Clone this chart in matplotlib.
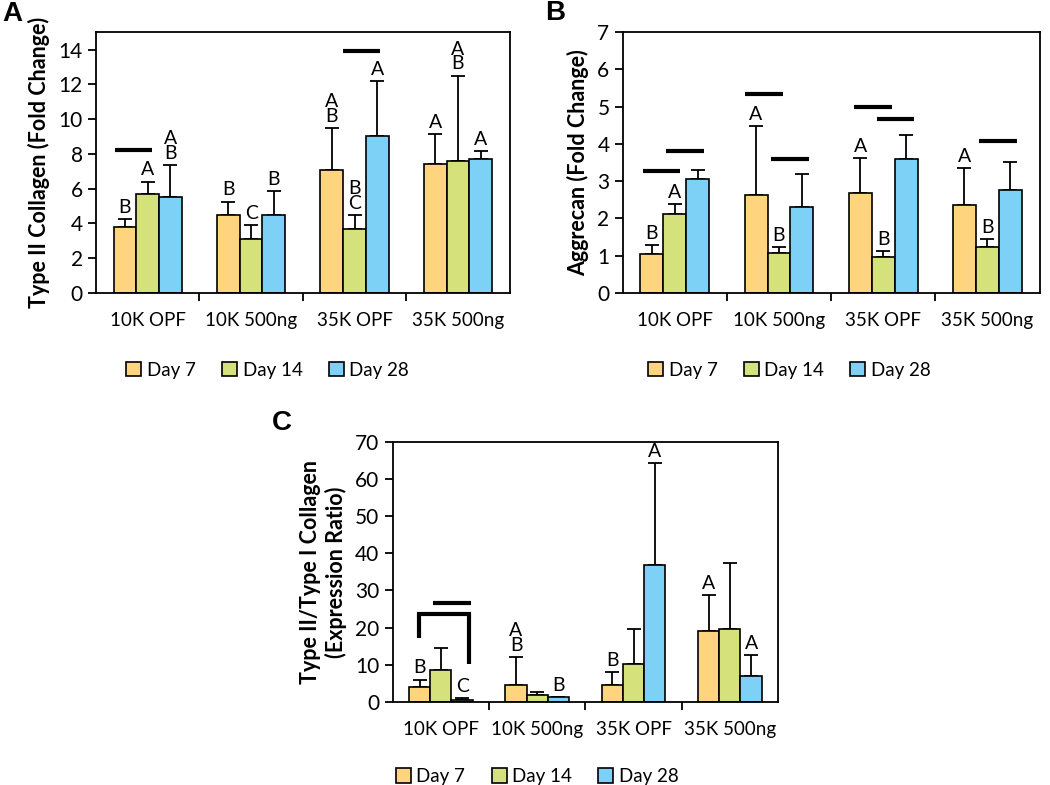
import numpy as np
import matplotlib
matplotlib.use("Agg")
import matplotlib.pyplot as plt

plt.rcParams['font.family'] = ['Lato', 'DejaVu Sans']

groups = ['10K OPF', '10K 500ng', '35K OPF', '35K 500ng']
days = ['Day 7', 'Day 14', 'Day 28']
colors = ['#FFD47E', '#D5E17A', '#7DD1F6']

# panel A - type II collagen
colA = [[3.8, 4.5, 7.05, 7.4],
        [5.7, 3.1, 3.7, 7.6],
        [5.5, 4.5, 9.0, 7.7]]
colA_top = [[4.25, 5.25, 9.5, 9.15],
            [6.4, 3.9, 4.45, 12.5],
            [7.35, 5.85, 12.2, 8.15]]
lettA = [['B', 'B', 'A\nB', 'A'],
         ['A', 'C', 'B\nC', 'A\nB'],
         ['A\nB', 'B', 'A', 'A']]
sigA = [(0, -0.32, 0.04, 8.2), (2, -0.11, 0.25, 13.9)]

# panel B - aggrecan
aggB = [[1.03, 2.64, 2.69, 2.35],
        [2.13, 1.07, 0.95, 1.24],
        [3.05, 2.30, 3.60, 2.76]]
aggB_top = [[1.28, 4.49, 3.61, 3.36],
            [2.38, 1.24, 1.12, 1.45],
            [3.31, 3.19, 4.23, 3.51]]
lettB = [['B', 'A', 'A', 'A'],
         ['A', 'B', 'B', 'B'],
         ['', '', '', '']]
sigB = [(0, -0.30, 0.05, 3.27), (0, -0.08, 0.285, 3.80),
        (1, -0.325, 0.04, 5.34), (1, -0.075, 0.285, 3.59),
        (2, -0.28, 0.08, 5.0), (2, -0.06, 0.30, 4.66),
        (3, -0.08, 0.28, 4.08)]

# panel C - type II / type I ratio
ratC = [[3.9, 4.4, 4.4, 19.2],
        [8.6, 1.8, 10.2, 19.6],
        [0.6, 1.35, 36.8, 6.9]]
ratC_top = [[6.0, 12.0, 8.1, 28.8],
            [14.6, 2.6, 19.5, 37.3],
            [0.9, 1.35, 64.2, 12.6]]
lettC = [['B', 'A\nB', 'B', 'A'],
         ['', '', '', ''],
         ['C', 'B', 'A', 'A']]
sigC = [(0, -0.08, 0.315, 26.7)]

fig = plt.figure(figsize=(10.5, 7.85), dpi=100)
W = 0.22
x = np.arange(len(groups))


def panel(rect, vals, tops, letters, sigs, ymax, ystep, ylabel, tag, tagpos, legpos):
    ax = fig.add_axes(rect)
    for i in range(3):
        xs = x + (i - 1) * W
        v = np.array(vals[i])
        t = np.array(tops[i])
        ax.bar(xs, v, W, color=colors[i], edgecolor='black', linewidth=1.2,
               label=days[i], zorder=2)
        ax.errorbar(xs, v, yerr=[np.zeros_like(v), t - v], fmt='none',
                    ecolor='black', elinewidth=1.3, capsize=5, capthick=1.3, zorder=1)
        for j in range(4):
            if letters[i][j]:
                ax.text(xs[j], t[j] + ymax * 0.012, letters[i][j], ha='center',
                        va='bottom', fontsize=14, linespacing=0.85)
    for g, a, b, y in sigs:
        ax.plot([g + a, g + b], [y, y], color='black', lw=3, solid_capstyle='butt')
    ax.set_xlim(-0.5, 3.5)
    ax.set_ylim(0, ymax)
    ax.set_yticks(np.arange(0, ymax + 0.01, ystep))
    ax.set_xticks([0.5, 1.5, 2.5])
    ax.set_xticklabels([])
    ax.set_xticks(x, minor=True)
    ax.set_xticklabels(groups, minor=True, fontsize=13.5)
    ax.tick_params(axis='x', which='minor', length=0, pad=14)
    ax.tick_params(axis='x', which='major', length=6, width=1.3, direction='out')
    ax.tick_params(axis='y', length=6, width=1.3, labelsize=15, direction='out')
    for s in ax.spines.values():
        s.set_linewidth(1.3)
    ax.set_ylabel(ylabel, fontsize=15.5, fontweight='bold', labelpad=6)
    fig.text(tagpos[0], tagpos[1], tag, fontsize=20, fontweight='bold',
             family=['Liberation Sans', 'DejaVu Sans'])
    ax.legend(loc='upper center', bbox_to_anchor=legpos, ncol=3, frameon=False,
              fontsize=13.5, handlelength=0.8, handleheight=0.8, handletextpad=0.3,
              columnspacing=1.4)
    return ax


axA = panel([0.0914, 0.627, 0.394, 0.332], colA, colA_top, lettA, sigA, 15, 2,
            'Type II Collagen (Fold Change)', 'A', (0.002, 0.973), (0.415, -0.2))
axA.set_ylim(0, 15)
axA.set_yticks(np.arange(0, 15, 2))

axB = panel([0.593, 0.627, 0.397, 0.332], aggB, aggB_top, lettB, sigB, 7, 1,
            'Aggrecan (Fold Change)', 'B', (0.519, 0.975), (0.40, -0.2))

axC = panel([0.374, 0.106, 0.367, 0.331], ratC, ratC_top, lettC, sigC, 70, 10,
            'Type II/Type I Collagen\n(Expression Ratio)', 'C', (0.259, 0.452),
            (0.375, -0.19))
# bracket between day 7 and day 28 in 10K OPF
axC.plot([-0.23, -0.23, 0.29, 0.29], [17.1, 23.6, 23.6, 10.1], color='black',
         lw=3, solid_capstyle='butt', solid_joinstyle='miter')

fig.savefig('out.png', dpi=100)
